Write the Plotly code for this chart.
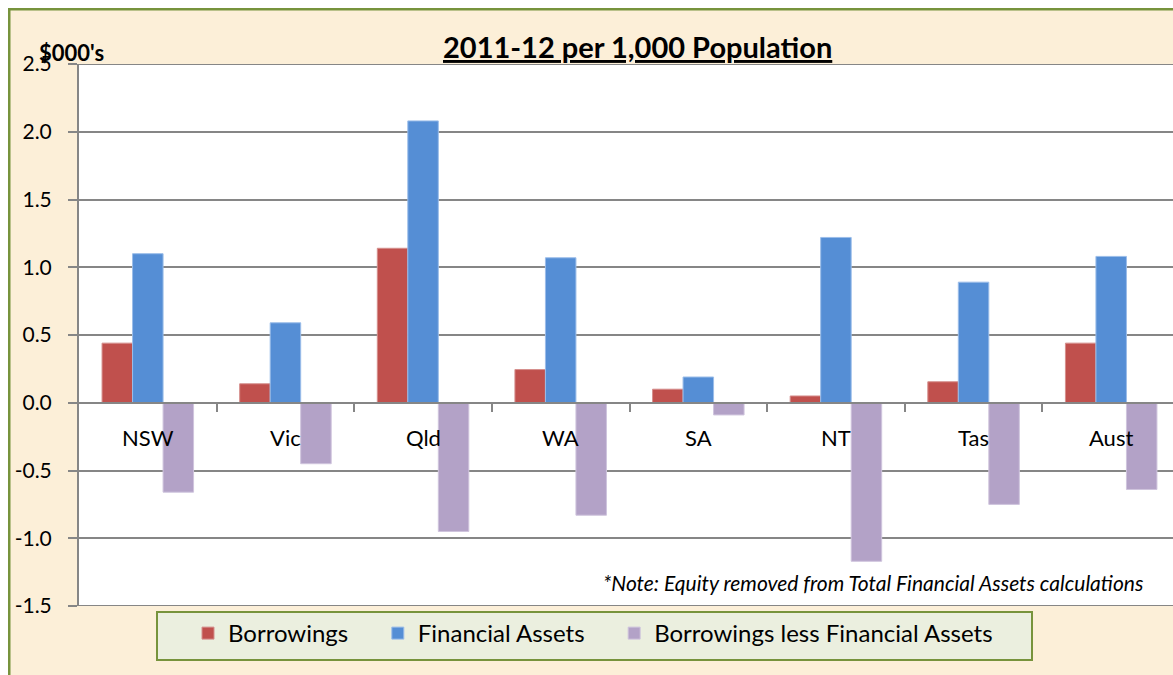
import plotly.graph_objects as go

categories = ["NSW", "Vic", "Qld", "WA", "SA", "NT", "Tas", "Aust"]
borrowings = [0.44, 0.14, 1.14, 0.245, 0.10, 0.05, 0.155, 0.44]
financial_assets = [1.10, 0.59, 2.08, 1.07, 0.19, 1.22, 0.89, 1.08]
borrowings_less_fa = [-0.66, -0.45, -0.95, -0.83, -0.09, -1.17, -0.75, -0.64]
y_ticks = [-1.5, -1.0, -0.5, 0.0, 0.5, 1.0, 1.5, 2.0, 2.5]

FONT = "Lato"
x_idx = list(range(len(categories)))
PAD = "\u00a0" * 4

# figure-pixel geometry (plot area)
L, T, B_PX, W, H = 71, 56, 598, 1173, 675
PW = 1101
PH = B_PX - T


def px_x(p):
    return (p - L) / PW


def px_y(p):
    return (B_PX - p) / PH


fig = go.Figure()
fig.add_trace(go.Bar(x=x_idx, y=borrowings, name="Borrowings" + PAD, marker_color="#C0504D",
                     marker_line=dict(color="#D58F8D", width=1)))
fig.add_trace(go.Bar(x=x_idx, y=financial_assets, name="Financial Assets" + PAD, marker_color="#558ED5",
                     marker_line=dict(color="#9BBDE9", width=1)))
fig.add_trace(go.Bar(x=x_idx, y=borrowings_less_fa, name="Borrowings less Financial Assets",
                     marker_color="#B3A2C7", marker_line=dict(color="#CFC4DD", width=1)))

annotations = []
for i, c in enumerate(categories):
    annotations.append(dict(x=i, y=0, xref="x", yref="y", text=c, showarrow=False,
                            yshift=-35, font=dict(size=22, color="black", family=FONT)))
annotations.append(dict(x=px_x(630), y=px_y(38), xref="paper", yref="paper",
                        text="<b><u>2011-12 per 1,000 Population</u></b>",
                        showarrow=False, xanchor="center", yanchor="middle",
                        font=dict(size=29, color="black", family=FONT)))
annotations.append(dict(x=px_x(29), y=px_y(45), xref="paper", yref="paper", text="<b>$000's</b>",
                        showarrow=False, xanchor="left", yanchor="middle",
                        font=dict(size=22, color="black", family=FONT)))
annotations.append(dict(x=px_x(1137), y=px_y(574), xref="paper", yref="paper",
                        text="<i>*Note: Equity removed from Total Financial Assets calculations</i>",
                        showarrow=False, xanchor="right", yanchor="middle",
                        font=dict(size=21, color="black", family=FONT)))

shapes = [
    dict(type="line", xref="paper", yref="y", x0=0, x1=1, y0=2.5, y1=2.5, line=dict(color="#868686", width=2)),
    dict(type="line", xref="paper", yref="y", x0=0, x1=1, y0=-1.5, y1=-1.5, line=dict(color="#868686", width=2)),
    # chart-area border (green, at the figure edge)
    dict(type="rect", xref="paper", yref="paper", x0=px_x(1), x1=px_x(W + 20), y0=px_y(H + 20), y1=px_y(1),
         line=dict(color="#77933C", width=3), layer="below"),
    # legend box
    dict(type="rect", xref="paper", yref="paper", x0=px_x(149), x1=px_x(1024), y0=px_y(652), y1=px_y(604),
         fillcolor="#EBEFDF", line=dict(color="#77933C", width=2), layer="below"),
]

fig.update_layout(
    width=W, height=H,
    margin=dict(l=L, r=W - L - PW, t=T, b=H - B_PX, autoexpand=False),
    paper_bgcolor="#FCEFD8",
    plot_bgcolor="white",
    barmode="group",
    bargap=0.335,
    bargroupgap=0,
    font=dict(family=FONT, size=20, color="black"),
    showlegend=True,
    legend=dict(orientation="h", x=px_x(180), xanchor="left", y=px_y(603), yanchor="top",
                bgcolor="rgba(0,0,0,0)", borderwidth=0,
                font=dict(size=24, family=FONT), itemwidth=30),
    annotations=annotations,
    shapes=shapes,
    xaxis=dict(range=[-0.5, 7.5], tickvals=[0.5, 1.5, 2.5, 3.5, 4.5, 5.5, 6.5], showticklabels=False,
               ticks="outside", ticklen=8, tickcolor="#868686", tickwidth=2,
               showline=True, linecolor="#868686", linewidth=2, showgrid=False, zeroline=False,
               anchor="free", position=0.375, automargin=False),
    yaxis=dict(range=[-1.5, 2.5], tickvals=y_ticks, ticktext=[f"{v:.1f}" for v in y_ticks],
               ticks="outside", ticklen=9, tickcolor="#868686", tickwidth=2, ticklabelstandoff=12,
               showline=True, linecolor="#868686", linewidth=2,
               showgrid=True, gridcolor="#868686", gridwidth=2, zeroline=False, automargin=False,
               tickfont=dict(size=21, family=FONT, color="black")),
)

post = ("document.documentElement.style.overflow='hidden';"
        "document.body.style.overflow='hidden';"
        "document.body.style.margin='8px 0 0 8px';")
fig.write_html("out.html", post_script=post)
